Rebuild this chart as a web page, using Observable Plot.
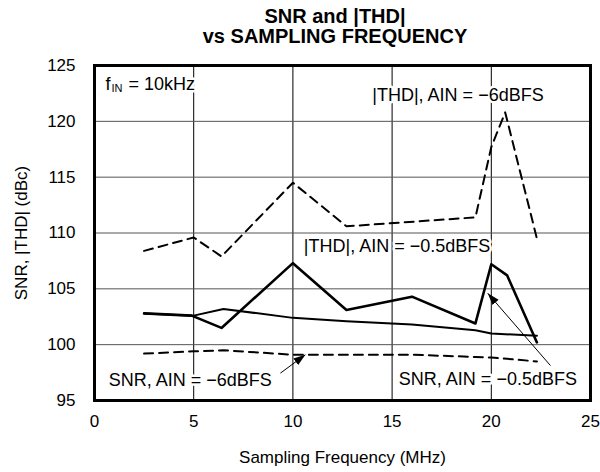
<!DOCTYPE html>
<html>
<head>
<meta charset="utf-8">
<script src="https://cdn.jsdelivr.net/npm/d3@7"></script>
<script src="https://cdn.jsdelivr.net/npm/@observablehq/plot@0.6"></script>
<style>
  body { margin: 0; background: #fff; font-family: "Liberation Sans", Arial, Helvetica, sans-serif; }
  #title { width: 600px; height: 46px; box-sizing: border-box; padding-top: 6px; padding-left: 70px;
           text-align: center; font-weight: bold; font-size: 20px; line-height: 20px; color: #000; }
  #title div { height: 20px; }
</style>
</head>
<body>
<div id="title"><div>SNR and |THD|</div><div>vs SAMPLING FREQUENCY</div></div>
<div id="chart"></div>
<script>
// ---- data ----
const thd6Freq  = [2.5, 5.0, 6.4, 10.0, 12.7, 19.2, 20.0, 20.7, 22.3];
const thd6Val   = [108.4, 109.6, 107.9, 114.5, 110.6, 111.4, 117.7, 120.8, 109.5];

const thd05Freq = [2.5, 4.9, 6.4, 10.0, 12.7, 16.0, 19.2, 20.0, 20.8, 22.3];
const thd05Val  = [102.8, 102.6, 101.5, 107.3, 103.1, 104.3, 101.9, 107.2, 106.2, 100.2];

const snr05Freq = [2.5, 5.0, 6.5, 10.0, 12.7, 16.0, 19.2, 20.0, 22.3];
const snr05Val  = [102.8, 102.6, 103.2, 102.4, 102.1, 101.8, 101.3, 101.0, 100.8];

const snr6Freq  = [2.5, 5.0, 6.5, 10.0, 12.7, 16.0, 19.2, 20.0, 22.3];
const snr6Val   = [99.2, 99.4, 99.5, 99.1, 99.1, 99.1, 98.9, 98.85, 98.5];

const xTicks = [0, 5, 10, 15, 20, 25];
const yTicks = [95, 100, 105, 110, 115, 120, 125];

const annoText = ["|THD|, AIN = \u22126dBFS", "|THD|, AIN = \u22120.5dBFS", "SNR, AIN = \u22126dBFS", "SNR, AIN = \u22120.5dBFS"];
const annoX    = [14.0, 10.55, 0.72, 15.34];
const annoY    = [122.3, 108.85, 96.8, 96.88];

const finX = [0.55];
const finY = [123.35];

const arrowX1 = [9.37, 22.98];
const arrowY1 = [97.45, 98.13];
const arrowX2 = [10.63, 19.82];
const arrowY2 = [99.1, 104.6];

// ---- build tables ----
const toRows = (xs, ys) => xs.map((x, i) => ({x, y: ys[i]}));
const thd6 = toRows(thd6Freq, thd6Val);
const thd05 = toRows(thd05Freq, thd05Val);
const snr05 = toRows(snr05Freq, snr05Val);
const snr6 = toRows(snr6Freq, snr6Val);
const annos = annoText.map((t, i) => ({t, x: annoX[i], y: annoY[i]}));
const fin = finX.map((x, i) => ({x, y: finY[i]}));
const arrows = arrowX1.map((x1, i) => ({x1, y1: arrowY1[i], x2: arrowX2[i], y2: arrowY2[i]}));

const FONT = "'Liberation Sans', Arial, Helvetica, sans-serif";

function filledArrow(color, context) {
  const doc = (context && context.document) || document;
  const ns = "http://www.w3.org/2000/svg";
  const m = doc.createElementNS(ns, "marker");
  m.setAttribute("viewBox", "0 -4.5 12 9");
  m.setAttribute("refX", "12");
  m.setAttribute("refY", "0");
  m.setAttribute("markerWidth", "12");
  m.setAttribute("markerHeight", "9");
  m.setAttribute("markerUnits", "userSpaceOnUse");
  m.setAttribute("orient", "auto");
  const p = doc.createElementNS(ns, "path");
  p.setAttribute("d", "M0,-4L12,0L0,4Z");
  p.setAttribute("fill", color);
  p.setAttribute("stroke", "none");
  m.appendChild(p);
  return m;
}

function build(marker) {
  return Plot.plot({
    width: 600,
    height: 426,
    marginLeft: 94,
    marginRight: 10,
    marginTop: 19,
    marginBottom: 72,
    style: {fontFamily: FONT, background: "#fff", color: "#000"},
    x: {domain: [0, 25]},
    y: {domain: [95, 125]},
    marks: [
      Plot.gridX([5, 10, 15, 20], {stroke: "#000", strokeOpacity: 1, strokeWidth: 1}),
      Plot.gridY([100, 105, 110, 115, 120], {stroke: "#555", strokeOpacity: 1, strokeWidth: 1}),
      Plot.axisX({ticks: xTicks, tickSize: 0, tickPadding: 14, fontSize: 17,
                  label: "Sampling Frequency (MHz)", labelAnchor: "center", labelOffset: 62, labelArrow: "none"}),
      Plot.axisY({ticks: yTicks, tickSize: 0, tickPadding: 19, fontSize: 17,
                  label: "SNR, |THD| (dBc)", labelAnchor: "center", labelOffset: 80, labelArrow: "none"}),
      Plot.text(annos, {x: "x", y: "y", text: "t", textAnchor: "start", lineAnchor: "middle",
                        fontSize: 18, fill: "#000", stroke: "#fff", strokeWidth: 5}),
      Plot.text(fin, {x: "x", y: "y", text: () => "f", textAnchor: "start", lineAnchor: "middle",
                      fontSize: 18, fill: "#000", stroke: "#fff", strokeWidth: 5}),
      Plot.text(fin, {x: "x", y: "y", text: () => "IN", textAnchor: "start", lineAnchor: "middle",
                      dx: 6, dy: 5, fontSize: 11, fill: "#000"}),
      Plot.text(fin, {x: "x", y: "y", text: () => "= 10kHz", textAnchor: "start", lineAnchor: "middle",
                      dx: 23, fontSize: 18, fill: "#000", stroke: "#fff", strokeWidth: 5}),
      Plot.line(snr6, {x: "x", y: "y", stroke: "#000", strokeWidth: 2, strokeDasharray: "9,6"}),
      Plot.line(thd6, {x: "x", y: "y", stroke: "#000", strokeWidth: 2, strokeDasharray: "9,6"}),
      Plot.line(snr05, {x: "x", y: "y", stroke: "#000", strokeWidth: 2}),
      Plot.line(thd05, {x: "x", y: "y", stroke: "#000", strokeWidth: 2.6}),
      Plot.link(arrows, {x1: "x1", y1: "y1", x2: "x2", y2: "y2", stroke: "#000", strokeWidth: 1, markerEnd: marker}),
      Plot.frame({stroke: "#000", strokeWidth: 3})
    ]
  });
}

let chart;
try { chart = build(filledArrow); } catch (e) { chart = build("arrow"); }
document.getElementById("chart").appendChild(chart);
</script>
</body>
</html>
